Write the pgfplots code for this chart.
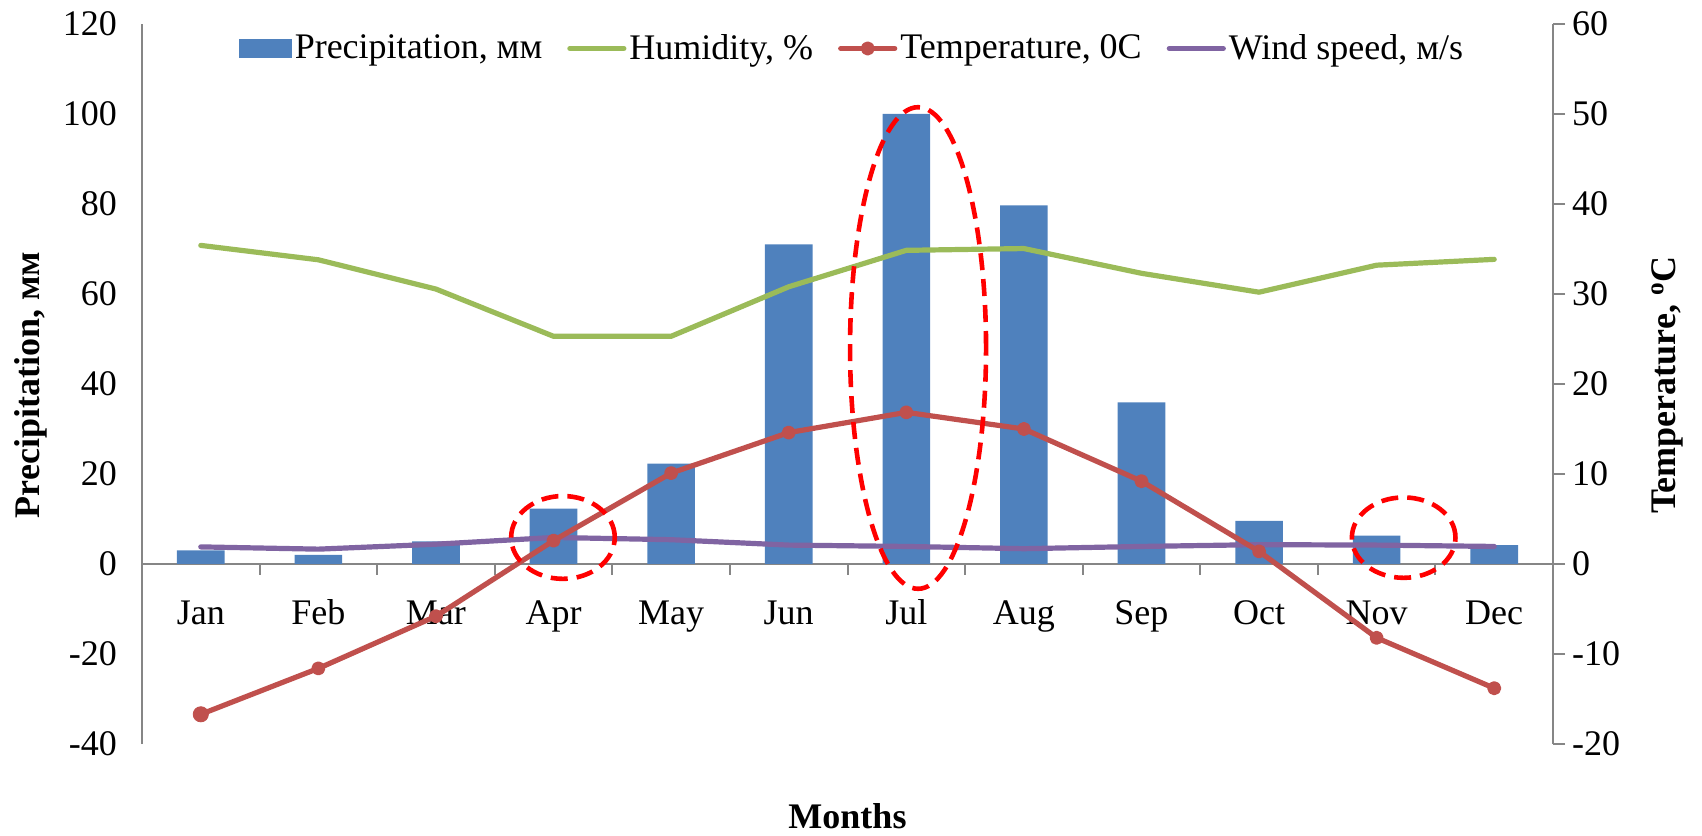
\documentclass[border=0pt]{standalone}
\usepackage{fontspec}
\setmainfont{Liberation Serif}
\usepackage{pgfplots}
\pgfplotsset{compat=1.18}

\definecolor{precip}{HTML}{4F81BD}
\definecolor{humid}{HTML}{9BBB59}
\definecolor{temp}{HTML}{C0504D}
\definecolor{wind}{HTML}{8064A2}
\definecolor{axisgray}{HTML}{868686}
\definecolor{note}{HTML}{FF0000}

\newcommand\chartfont{\fontsize{18}{21}\selectfont}

\tikzset{
  series/.style={line width=2.6pt, line join=round, line cap=round},
  highlight/.style={note, line width=2.3pt, dash pattern=on 8.5pt off 4.5pt},
}

\pgfplotsset{
  common/.style={
    at={(0pt,0pt)}, anchor=south west,
    scale only axis, width=705.5pt, height=360pt,
    xmin=-0.5, xmax=11.5,
    tick label style={font=\chartfont},
    /pgf/number format/assume math mode=true,
    yticklabel={\pgfmathprintnumber[assume math mode=true]{\tick}},
    axis line style={axisgray, line width=0.8pt},
  },
}

\begin{document}
\begin{tikzpicture}
\path[use as bounding box] (-71pt,-45.5pt) rectangle (780pt,372pt);

% left axis: precipitation bars, humidity and wind speed
\begin{axis}[common,
  ymin=-40, ymax=120,
  axis y line*=left, axis x line*=middle,
  ytick={-40,-20,...,120},
  major tick length=0pt,
  yticklabel style={xshift=-9pt},
  xtick={0,...,11},
  xticklabels={Jan,Feb,Mar,Apr,May,Jun,Jul,Aug,Sep,Oct,Nov,Dec},
  typeset ticklabels with strut,
  xticklabel style={yshift=-12pt},
  ylabel={Precipitation, мм},
  xlabel={Months},
  every axis y label/.style={at={(axis description cs:-0.0787,0.4986)}, rotate=90, anchor=center, font=\chartfont\bfseries},
  every axis x label/.style={at={(axis description cs:0.5,-0.1)}, anchor=center, font=\chartfont\bfseries},
]
\addplot[ybar, bar width=23.8pt, bar shift=0pt, fill=precip, draw=none]
  coordinates {(0,3) (1,2) (2,5) (3,12.3) (4,22.3) (5,71) (6,100) (7,79.7) (8,35.9) (9,9.6) (10,6.3) (11,4.2)};
\addplot[series, humid, no markers]
  coordinates {(0,70.8) (1,67.6) (2,61.1) (3,50.6) (4,50.6) (5,61.6) (6,69.7) (7,70.1) (8,64.6) (9,60.4) (10,66.4) (11,67.7)};
\addplot[series, wind, no markers]
  coordinates {(0,3.8) (1,3.3) (2,4.4) (3,5.9) (4,5.4) (5,4.2) (6,3.9) (7,3.4) (8,3.9) (9,4.3) (10,4.2) (11,3.9)};
\end{axis}

% right axis: temperature, legend and highlighted months
\begin{axis}[common,
  ymin=-20, ymax=60,
  axis y line*=right, axis x line=none,
  ytick={-20,-10,...,60},
  tick align=outside, major tick length=6pt,
  tick style={axisgray, line width=0.8pt},
  ylabel={Temperature, \textsuperscript{o}C},
  every axis y label/.style={at={(axis description cs:1.0812,0.4986)}, rotate=90, anchor=center, font=\chartfont\bfseries},
  legend columns=4,
  legend cell align=left,
  legend style={at={(axis description cs:0.5036,0.966)}, anchor=center, draw=none, fill=none,
    font=\chartfont, nodes={inner sep=1.5pt},
    /tikz/every even column/.append style={column sep=11pt}},
  legend image code/.code={\draw[mark repeat=2,mark phase=2,#1] plot coordinates {(0pt,0pt) (13.5pt,0pt) (27pt,0pt)};},
]
% category separators hanging below the zero line
\addplot[ycomb, draw=axisgray, line width=1pt, mark=none, forget plot]
  coordinates {(0.5,-1.2) (1.5,-1.2) (2.5,-1.2) (3.5,-1.2) (4.5,-1.2) (5.5,-1.2) (6.5,-1.2) (7.5,-1.2) (8.5,-1.2) (9.5,-1.2) (10.5,-1.2)};
\addlegendimage{legend image code/.code={\fill[precip] (0pt,-4.5pt) rectangle (26pt,4.5pt);}}
\addlegendentry{Precipitation, мм}
\addlegendimage{series, humid}
\addlegendentry{Humidity, \%}
\addplot[series, temp, mark=*, mark size=2.2pt, mark options={solid}]
  coordinates {(0,-16.7) (1,-11.6) (2,-5.8) (3,2.6) (4,10.1) (5,14.6) (6,16.85) (7,15.0) (8,9.2) (9,1.4) (10,-8.2) (11,-13.8)};
\addlegendentry{Temperature, 0C}
\addlegendimage{series, wind}
\addlegendentry{Wind speed, м/s}
\addplot[temp, only marks, mark=*, mark size=3.8pt, forget plot] coordinates {(0,-16.7)};

\draw[highlight] (axis cs:3.08,2.95) ellipse [x radius=25.9pt, y radius=20.7pt];
\draw[highlight] (axis cs:6.1,24) ellipse [x radius=34pt, y radius=120.4pt];
\draw[highlight] (axis cs:10.23,2.93) ellipse [x radius=25.9pt, y radius=20.1pt];
\end{axis}
\end{tikzpicture}
\end{document}
